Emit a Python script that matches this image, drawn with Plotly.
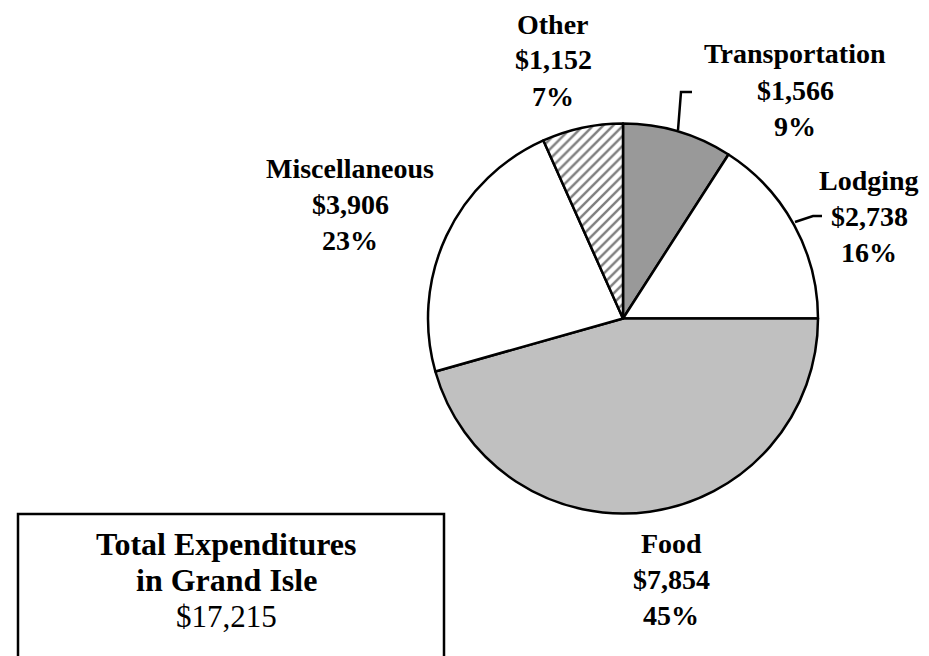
import plotly.graph_objects as go

# ---- data ----
categories = ["Transportation", "Lodging", "Food", "Miscellaneous", "Other"]
amounts = [1566, 2738, 7854, 3906, 1152]
percents = [9, 16, 45, 23, 7]
total_title = ["Total Expenditures", "in Grand Isle"]
total_label = "$17,215"

# ---- styles / layout (separate from data) ----
W, H = 929, 656
OFF = 8                               # page body margin compensation
fills = ["#999999", "#ffffff", "#c0c0c0", "#ffffff", "#ffffff"]
patterns = ["", "", "", "", "/"]
cx, cy, r = 623, 318.5, 195           # pie centre / radius in pixels
label_pos = {                         # label centre x, first-line centre y (pixels)
    "Transportation": (795, 54),
    "Lodging": (869, 180),
    "Food": (671, 543),
    "Miscellaneous": (350, 168),
    "Other": (553, 24),
}
line_gap = 36
LABEL_SIZE = 28
FONT = "Liberation Serif, Times New Roman, serif"


def px(x):
    return (x - OFF) / W


def py(y):
    return 1 - (y - OFF) / H


fig = go.Figure(go.Pie(
    labels=categories,
    values=amounts,
    sort=False,
    direction="clockwise",
    rotation=0,
    textinfo="none",
    hoverinfo="label+value+percent",
    marker=dict(
        colors=fills,
        line=dict(color="black", width=2.5),
        pattern=dict(shape=patterns, fgcolor="black", bgcolor=fills,
                     size=7, solidity=0.35, fillmode="overlay"),
    ),
    domain=dict(x=[px(cx - r), px(cx + r)], y=[py(cy + r), py(cy - r)]),
    showlegend=False,
))

annotations = []
for cat, amt, pct in zip(categories, amounts, percents):
    x0, y0 = label_pos[cat]
    for i, t in enumerate([cat, f"${amt:,}", f"{pct}%"]):
        annotations.append(dict(
            x=px(x0), y=py(y0 + i * line_gap), xref="paper", yref="paper",
            text=f"<b>{t}</b>", showarrow=False, xanchor="center", yanchor="middle",
            font=dict(family=FONT, size=LABEL_SIZE, color="black"),
        ))

# total box
box_x0, box_x1, box_y0 = 18, 444, 514
box_cx = 226
box_lines = [(total_title[0], True), (total_title[1], True), (total_label, False)]
for i, (t, bold) in enumerate(box_lines):
    annotations.append(dict(
        x=px(box_cx), y=py(544 + i * 36), xref="paper", yref="paper",
        text=f"<b>{t}</b>" if bold else t, showarrow=False,
        xanchor="center", yanchor="middle",
        font=dict(family=FONT, size=32 if bold else 31, color="black"),
    ))

shapes = [
    dict(type="rect", xref="paper", yref="paper",
         x0=px(box_x0), x1=px(box_x1), y0=py(H + 30), y1=py(box_y0),
         line=dict(color="black", width=2.5), fillcolor="rgba(0,0,0,0)"),
    # leader: Transportation
    dict(type="path", xref="paper", yref="paper",
         path=f"M {px(678)},{py(130)} L {px(681)},{py(92)} L {px(692)},{py(92)}",
         line=dict(color="black", width=2.5)),
    # leader: Lodging
    dict(type="path", xref="paper", yref="paper",
         path=f"M {px(795)},{py(222)} L {px(813)},{py(216)} L {px(822)},{py(216)}",
         line=dict(color="black", width=2.5)),
]

fig.update_layout(
    width=W, height=H,
    margin=dict(l=0, r=0, t=0, b=0),
    paper_bgcolor="white", plot_bgcolor="white",
    annotations=annotations, shapes=shapes,
)

fig.write_html("out.html")
